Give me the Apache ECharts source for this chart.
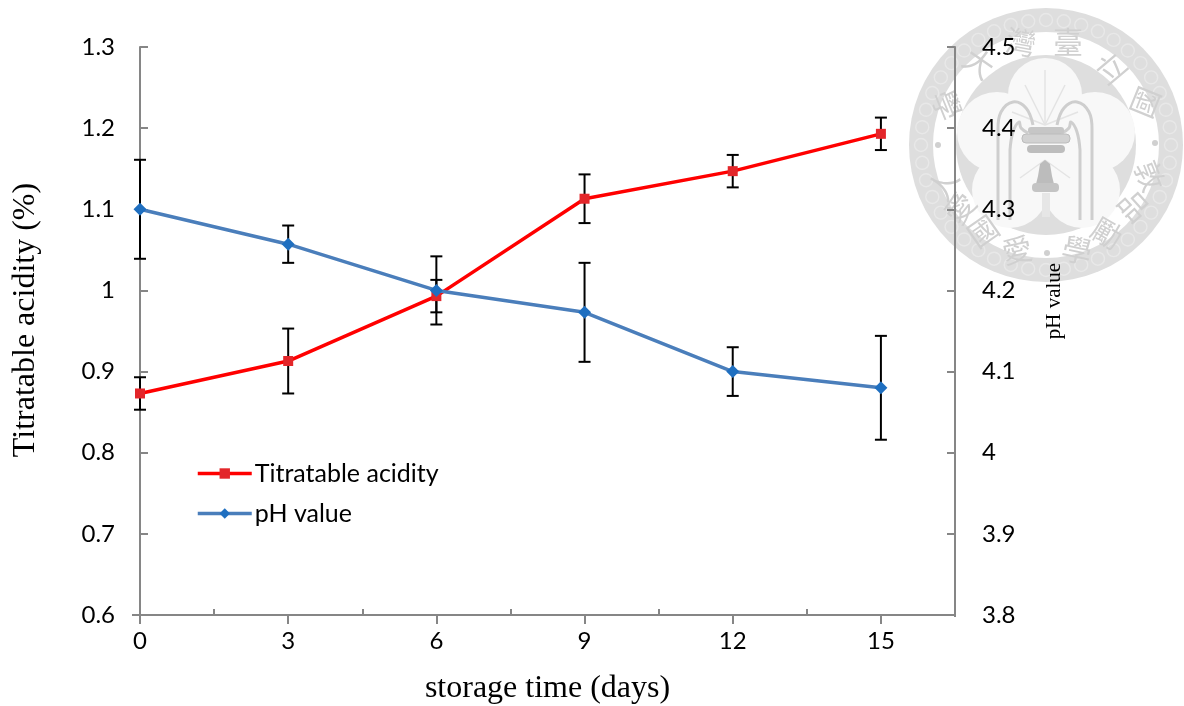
<!DOCTYPE html>
<html><head><meta charset="utf-8">
<style>html,body{margin:0;padding:0;background:#fff}#c{width:1184px;height:706px}</style>
<script src="https://cdn.jsdelivr.net/npm/echarts@6/dist/echarts.min.js"></script>
</head><body><div id="c"></div>
<script>
const days = [0, 3, 6, 9, 12, 15];
const acidity = [0.873, 0.913, 0.993, 1.113, 1.147, 1.193];
const acidityErr = [0.02, 0.04, 0.02, 0.03, 0.02, 0.02];
const ph = [4.3, 4.257, 4.2, 4.173, 4.1, 4.08];
const phErr = [0.061, 0.023, 0.042, 0.061, 0.03, 0.064];
const sealChars = [
  ['臺',1068,42,0],['灣',1021,42,-10],['大',979,63,-35],['學',947,105,-68],
  ['立',1111,68,40],['國',1145,102,68],['人',943,185,62],['敦',1150,176,-68],
  ['品',1134,206,-48],['勵',1107,233,-30],['學',1077,250,-12],['愛',1017,250,12],
  ['國',983,231,35],['愛',960,208,52]
];

const SEAL = '#dedede', SEALD = '#d0d0d0', ARCH = '#cecece';
const cx = 1046, cy = 145;
const seal = [];
seal.push({type:'circle',z:-20,shape:{cx,cy,r:137},style:{fill:SEAL}});
for (let i=0;i<44;i++){
  const a=i/44*Math.PI*2;
  seal.push({type:'circle',z:-19,shape:{cx:cx+125*Math.cos(a),cy:cy+125*Math.sin(a),r:6.5},style:{fill:'none',stroke:'#e8e8e8',lineWidth:1.4}});
}
seal.push({type:'circle',z:-18,shape:{cx,cy,r:113},style:{fill:'#fff'}});
seal.push({type:'circle',z:-17,shape:{cx,cy,r:90},style:{fill:SEAL}});
[[1045,95,37],[997,132,40],[1095,132,40],[1010,190,38],[1082,190,38],[1046,145,40]].forEach(p=>{
  seal.push({type:'circle',z:-16,shape:{cx:p[0],cy:p[1],r:p[2]},style:{fill:'#f8f8f8'}});
});
sealChars.forEach(c=>{
  seal.push({type:'text',z:-15,x:c[1],y:c[2],rotation:c[3]*Math.PI/180,
    style:{text:c[0],font:'30px "Noto Sans CJK TC"',fill:SEALD,align:'center',verticalAlign:'middle'}});
});
[[938,145],[1155,143],[1047,253]].forEach(p=>seal.push({type:'circle',z:-15,shape:{cx:p[0],cy:p[1],r:3},style:{fill:SEALD}}));
// palm fronds behind the fountain
[[1045,125,1045,70],[1045,125,1025,85],[1045,125,1065,85],[1045,125,1012,112],[1045,125,1078,112],
 [1045,160,1020,178],[1045,160,1070,178]].forEach(l=>{
  seal.push({type:'line',z:-15,shape:{x1:l[0],y1:l[1],x2:l[2],y2:l[3]},style:{stroke:'#e4e4e4',lineWidth:1.5}});
});
// fountain arches, basin and bell
[[998,220,102,1013,1033,125],[1010,220,122,1019,1028,133]].forEach(a=>{
  const xr=2090-a[0], ax=2090-a[3], er=2090-a[4];
  seal.push({type:'polyline',z:-14,shape:{smooth:0.4,points:[[a[0],a[2]+28],[a[0]+3,a[2]+10],[a[3],a[2]],[a[4]-7,a[2]+6],[a[4],a[5]]]},style:{fill:'none',stroke:ARCH,lineWidth:3}});
  seal.push({type:'line',z:-14,shape:{x1:a[0],y1:a[1],x2:a[0],y2:a[2]+28},style:{stroke:ARCH,lineWidth:3}});
  seal.push({type:'polyline',z:-14,shape:{smooth:0.4,points:[[xr,a[2]+28],[xr-3,a[2]+10],[ax,a[2]],[er+7,a[2]+6],[er,a[5]]]},style:{fill:'none',stroke:ARCH,lineWidth:3}});
  seal.push({type:'line',z:-14,shape:{x1:xr,y1:a[1],x2:xr,y2:a[2]+28},style:{stroke:ARCH,lineWidth:3}});
});
seal.push({type:'rect',z:-13,shape:{x:1028,y:127,width:36,height:7,r:3},style:{fill:'#c6c6c6'}});
seal.push({type:'rect',z:-13,shape:{x:1022,y:134,width:48,height:9,r:4},style:{fill:'#d2d2d2',stroke:'#bcbcbc',lineWidth:1}});
seal.push({type:'rect',z:-13,shape:{x:1027,y:145,width:38,height:8,r:4},style:{fill:'#bdbdbd'}});
seal.push({type:'polygon',z:-13,shape:{points:[[1045,160],[1040,164],[1038,176],[1036,184],[1054,184],[1052,176],[1050,164]]},style:{fill:'#bcbcbc'}});
seal.push({type:'rect',z:-13,shape:{x:1032,y:183,width:27,height:9,r:4},style:{fill:'#c4c4c4'}});
seal.push({type:'rect',z:-13,shape:{x:1042,y:193,width:8,height:24},style:{fill:'#e6e6e6'}});
// small stub of the horizontal axis left of the vertical axis
seal.push({type:'line',z:5,shape:{x1:132,y1:615,x2:140,y2:615},style:{stroke:'#868686',lineWidth:2}});
// the axis end carries no tick below the line
seal.push({type:'line',z:50,shape:{x1:955,y1:617,x2:955,y2:625},style:{stroke:'#fff',lineWidth:3}});

const pair = (xs, ys) => xs.map((x,i)=>[x,ys[i]]);
const errRows = (ys, es) => days.map((x,i)=>[x, ys[i]-es[i], ys[i]+es[i]]);
const renderErr = (params, api) => {
  const x = api.value(0);
  const lo = api.coord([x, api.value(1)]);
  const hi = api.coord([x, api.value(2)]);
  const st = {stroke:'#000', lineWidth:2};
  const cap = 6;
  return {type:'group', children:[
    {type:'line',shape:{x1:lo[0],y1:lo[1],x2:hi[0],y2:hi[1]},style:st},
    {type:'line',shape:{x1:lo[0]-cap,y1:lo[1],x2:lo[0]+cap,y2:lo[1]},style:st},
    {type:'line',shape:{x1:hi[0]-cap,y1:hi[1],x2:hi[0]+cap,y2:hi[1]},style:st}
  ]};
};
const axisLine = {show:true,onZero:false,lineStyle:{color:'#868686',width:2}};
const labelFont = {color:'#000',fontFamily:'Lato',fontSize:24};

const chart = echarts.init(document.getElementById('c'),null,{renderer:'canvas'});
chart.setOption({
  animation:false,
  backgroundColor:'#fff',
  graphic:{elements:seal},
  grid:{left:140,right:229,top:47,bottom:91,containLabel:false,outerBoundsMode:'none'},
  legend:{
    left:196,top:461,padding:0,orient:'vertical',itemWidth:54,itemHeight:13,itemGap:15,
    data:['Titratable acidity','pH value'],
    lineStyle:{width:3.5},
    textStyle:{color:'#000',fontFamily:'Lato',fontSize:25,padding:[0,0,0,-2]}
  },
  xAxis:{
    type:'value',min:0,max:16.5,interval:3,
    name:'storage time (days)',nameLocation:'middle',nameGap:58,
    nameTextStyle:{color:'#000',fontFamily:'Liberation Serif',fontSize:32},
    axisLine,axisTick:{show:true,length:9,lineStyle:{color:'#868686',width:2}},
    minorTick:{show:true,splitNumber:2,length:-6,lineStyle:{color:'#868686',width:2}},
    splitLine:{show:false},minorSplitLine:{show:false},
    axisLabel:{...labelFont,margin:14,showMaxLabel:false}
  },
  yAxis:[{
    type:'value',min:0.6,max:1.3,interval:0.1,
    name:'Titratable acidity (%)',nameLocation:'middle',nameGap:98,
    nameTextStyle:{color:'#000',fontFamily:'Liberation Serif',fontSize:32,padding:[0,0,0,22]},
    axisLine,axisTick:{show:true,inside:true,length:8,lineStyle:{color:'#868686',width:2}},
    splitLine:{show:false},axisLabel:{...labelFont,margin:25}
  },{
    type:'value',min:3.8,max:4.5,interval:0.1,position:'right',
    name:'pH value',nameLocation:'middle',nameGap:89,nameRotate:90,
    nameTextStyle:{color:'#000',fontFamily:'Liberation Serif',fontSize:21,padding:[0,0,0,60]},
    axisLine,axisTick:{show:true,inside:true,length:8,lineStyle:{color:'#868686',width:2}},
    splitLine:{show:false},axisLabel:{...labelFont,margin:27}
  }],
  series:[
    {name:'acidity error',type:'custom',xAxisIndex:0,yAxisIndex:0,z:3,renderItem:renderErr,
      encode:{x:0,y:[1,2]},data:errRows(acidity,acidityErr)},
    {name:'pH error',type:'custom',xAxisIndex:0,yAxisIndex:1,z:3,renderItem:renderErr,
      encode:{x:0,y:[1,2]},data:errRows(ph,phErr)},
    {name:'Titratable acidity',type:'line',xAxisIndex:0,yAxisIndex:0,z:4,
      data:pair(days,acidity),symbol:'rect',symbolSize:10,showSymbol:true,
      lineStyle:{color:'#ff0000',width:3.5},itemStyle:{color:'#e3262a'}},
    {name:'pH value',type:'line',xAxisIndex:0,yAxisIndex:1,z:5,
      data:pair(days,ph),symbol:'diamond',symbolSize:13,showSymbol:true,
      lineStyle:{color:'#4a7ebb',width:3.5},itemStyle:{color:'#1f6fc0'}}
  ]
});
</script></body></html>
